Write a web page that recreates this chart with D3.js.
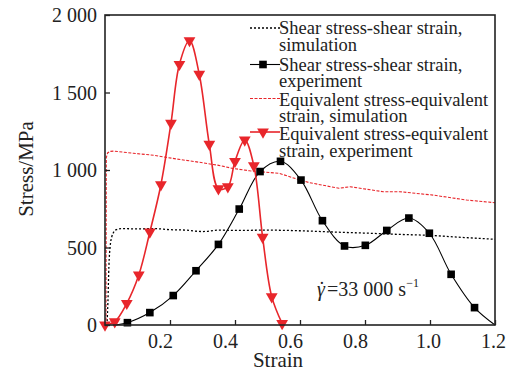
<!DOCTYPE html>
<html>
<head>
<meta charset="utf-8">
<script src="https://cdn.jsdelivr.net/npm/d3@7"></script>
<style>
  body { margin: 0; background: #fff; }
  svg { display: block; font-family: "Liberation Serif", "Times New Roman", serif; }
</style>
</head>
<body>
<svg id="chart" width="511" height="374"></svg>
<script>
// shear stress - shear strain, simulation (dotted)
const shearSimStrain = [0.006, 0.009, 0.012, 0.016, 0.021, 0.027, 0.035, 0.05, 0.1, 0.15, 0.2, 0.25, 0.3, 0.35, 0.4, 0.5, 0.6, 0.7, 0.8, 0.9, 1.0, 1.1, 1.2];
const shearSimStress = [0, 150, 380, 510, 570, 600, 615, 622, 620, 622, 615, 612, 603, 612, 610, 612, 608, 600, 593, 585, 578, 565, 553];

// shear stress - shear strain, experiment (squares)
const shearExpStrain = [0.025, 0.069, 0.138, 0.21, 0.28, 0.349, 0.413, 0.477, 0.54, 0.603, 0.669, 0.737, 0.801, 0.867, 0.935, 0.998, 1.065, 1.137, 1.2];
const shearExpStress = [0, 15, 80, 190, 350, 520, 748, 990, 1056, 935, 673, 510, 514, 610, 690, 592, 327, 112, 0];

// equivalent stress - equivalent strain, simulation (dashed)
const eqSimStrain = [0.003, 0.004, 0.008, 0.015, 0.026, 0.087, 0.15, 0.22, 0.29, 0.35, 0.394, 0.445, 0.537, 0.6, 0.63, 0.72, 0.754, 0.856, 0.907, 1.01, 1.113, 1.2];
const eqSimStress = [0, 1080, 1110, 1120, 1122, 1108, 1095, 1071, 1050, 1030, 1010, 995, 978, 935, 918, 882, 892, 860, 860, 838, 806, 789];

// equivalent stress - equivalent strain, experiment (triangles)
const eqExpStrain = [0, 0.03, 0.067, 0.104, 0.138, 0.172, 0.203, 0.229, 0.26, 0.29, 0.321, 0.349, 0.378, 0.4, 0.43, 0.458, 0.485, 0.513, 0.545];
const eqExpStress = [0, 22, 140, 323, 600, 905, 1302, 1682, 1835, 1618, 1166, 880, 892, 1056, 1194, 1028, 566, 183, 10];

const xTicks = [0.2, 0.4, 0.6, 0.8, 1.0, 1.2];
const yTicks = [0, 500, 1000, 1500, 2000];

const legendLabels = [
  ["Shear stress-shear strain,", "simulation"],
  ["Shear stress-shear strain,", "experiment"],
  ["Equivalent stress-equivalent", "strain, simulation"],
  ["Equivalent stress-equivalent", "strain, experiment"]
];

const red = "#e8262b";
const plotL = 105, plotR = 495, plotT = 15, plotB = 325;

const svg = d3.select("#chart");

const x = d3.scaleLinear().domain([0, 1.2]).range([plotL, plotR]);
const y = d3.scaleLinear().domain([0, 2000]).range([plotB, plotT]);

const fmtY = d => d >= 1000 ? Math.floor(d / 1000) + " " + String(d % 1000).padStart(3, "0") : String(d);

const zip = (xs, ys) => xs.map((v, i) => [v, ys[i]]);
const line = d3.line().x(d => x(d[0])).y(d => y(d[1]));

// series lines
svg.append("path")
  .datum(zip(shearSimStrain, shearSimStress))
  .attr("d", line.curve(d3.curveMonotoneX))
  .attr("fill", "none").attr("stroke", "#000")
  .attr("stroke-width", 1.3).attr("stroke-dasharray", "2,2");

svg.append("path")
  .datum(zip(eqSimStrain, eqSimStress))
  .attr("d", line.curve(d3.curveLinear))
  .attr("fill", "none").attr("stroke", red)
  .attr("stroke-width", 1.1).attr("stroke-dasharray", "3,1.5");

svg.append("path")
  .datum(zip(shearExpStrain, shearExpStress))
  .attr("d", line.curve(d3.curveCatmullRom))
  .attr("fill", "none").attr("stroke", "#000").attr("stroke-width", 1.1);

svg.append("path")
  .datum(zip(eqExpStrain, eqExpStress))
  .attr("d", line.curve(d3.curveCatmullRom))
  .attr("fill", "none").attr("stroke", red).attr("stroke-width", 1.6);

// markers
const square = d3.symbol().type(d3.symbolSquare).size(58);
const tri = d3.symbol().type(d3.symbolTriangle).size(60);

svg.append("g").selectAll("path")
  .data(zip(shearExpStrain, shearExpStress).slice(1, -1))
  .join("path")
  .attr("d", square)
  .attr("transform", d => `translate(${x(d[0])},${y(d[1])})`)
  .attr("fill", "#000");

svg.append("g").selectAll("path")
  .data(zip(eqExpStrain, eqExpStress))
  .join("path")
  .attr("d", tri)
  .attr("transform", d => `translate(${x(d[0])},${y(d[1])}) rotate(180)`)
  .attr("fill", red);

// frame
svg.append("rect")
  .attr("x", plotL).attr("y", plotT)
  .attr("width", plotR - plotL).attr("height", plotB - plotT)
  .attr("fill", "none").attr("stroke", "#222").attr("stroke-width", 1.6);

// axes (inward ticks)
const xAxis = svg.append("g")
  .attr("transform", `translate(0,${plotB})`)
  .call(d3.axisBottom(x).tickValues(xTicks).tickSizeInner(-5).tickSizeOuter(0).tickFormat(d3.format(".1f")));
xAxis.select(".domain").remove();
xAxis.selectAll("line").attr("stroke", "#222").attr("stroke-width", 1.3);
xAxis.selectAll("text")
  .attr("y", 23).attr("dy", 0)
  .attr("dx", d => d < 0.9 ? -10 : -2)
  .attr("font-size", 20).attr("fill", "#222")
  .attr("font-family", "Liberation Serif, serif");

const yAxis = svg.append("g")
  .attr("transform", `translate(${plotL},0)`)
  .call(d3.axisLeft(y).tickValues(yTicks).tickSizeInner(-5).tickSizeOuter(0).tickFormat(fmtY));
yAxis.select(".domain").remove();
yAxis.selectAll("line").attr("stroke", "#222").attr("stroke-width", 1.3);
yAxis.selectAll("text")
  .attr("x", -8).attr("dy", "0.33em")
  .attr("font-size", 20).attr("fill", "#222")
  .attr("font-family", "Liberation Serif, serif");

// axis titles
svg.append("text")
  .attr("x", 278).attr("y", 367)
  .attr("text-anchor", "middle").attr("font-size", 21).attr("fill", "#222")
  .text("Strain");

svg.append("text")
  .attr("transform", "translate(33,169) rotate(-90)")
  .attr("text-anchor", "middle").attr("font-size", 21).attr("fill", "#222")
  .text("Stress/MPa");

// strain rate annotation
const ann = svg.append("text")
  .attr("x", 317).attr("y", 296)
  .attr("font-size", 20).attr("fill", "#222");
ann.append("tspan").attr("font-style", "italic").text("\u03B3");
ann.append("tspan").attr("dx", -6.5).text("\u02D9");
ann.append("tspan").attr("dx", 2).text("=33 000 s");
ann.append("tspan").attr("font-size", 12).attr("dy", -9).text("\u22121");

// legend
const legendY = [28, 64.5, 98.5, 132];
const legendBase = [34, 70.5, 105.5, 140];
const lg = svg.append("g");
legendLabels.forEach((lab, i) => {
  const ly = legendY[i];
  const ln = lg.append("line")
    .attr("x1", 250).attr("x2", 280).attr("y1", ly).attr("y2", ly);
  if (i === 0) ln.attr("stroke", "#000").attr("stroke-width", 1.3).attr("stroke-dasharray", "2,2");
  if (i === 1) ln.attr("stroke", "#000").attr("stroke-width", 1.1);
  if (i === 2) ln.attr("stroke", red).attr("stroke-width", 1.1).attr("stroke-dasharray", "3,1.5");
  if (i === 3) ln.attr("stroke", red).attr("stroke-width", 1.6);
  if (i === 1) lg.append("path").attr("d", square).attr("transform", `translate(263,${ly})`).attr("fill", "#000");
  if (i === 3) lg.append("path").attr("d", tri).attr("transform", `translate(263,${ly}) rotate(180)`).attr("fill", red);
  lab.forEach((t, j) => {
    lg.append("text")
      .attr("x", 279).attr("y", legendBase[i] + j * 16.8)
      .attr("font-size", 18.5).attr("fill", "#222")
      .text(t);
  });
});
</script>
</body>
</html>
